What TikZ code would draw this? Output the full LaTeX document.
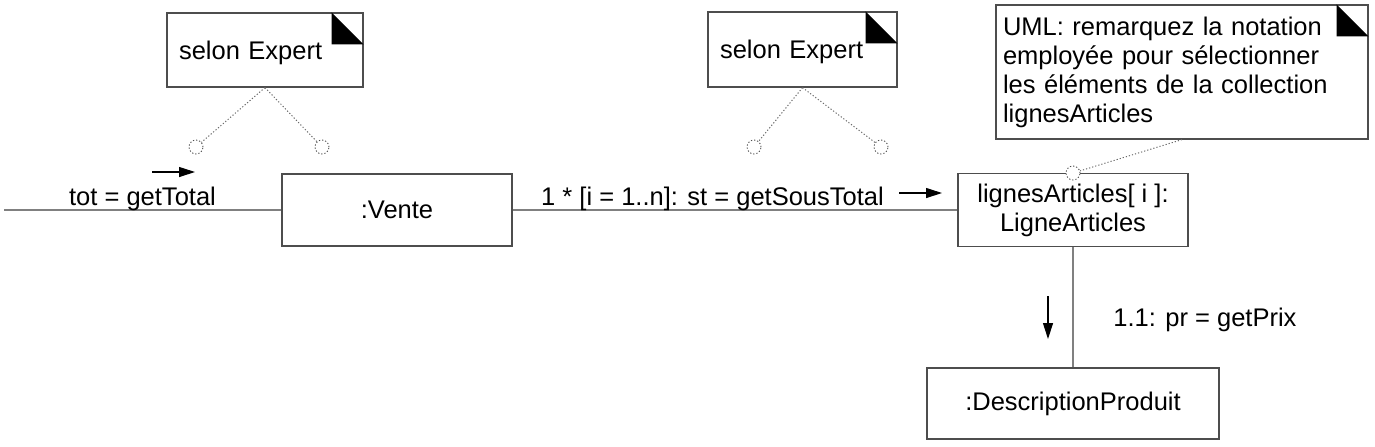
\documentclass[tikz,border=0pt]{standalone}
\usepackage{fontspec}
\setmainfont{Liberation Sans}
\usetikzlibrary{arrows.meta}
\definecolor{trait}{HTML}{808080}
\definecolor{bord}{HTML}{4D4D4D}
\definecolor{pointille}{HTML}{6B6B6B}
\tikzset{
  objet/.style={draw=bord,line width=0.6pt,fill=white,inner sep=2pt,align=center},
  note/.style={draw=bord,line width=0.6pt,fill=white,align=left,inner ysep=2pt},
  lien/.style={trait,line width=0.6pt},
  lienpt/.style={pointille,line width=0.5pt,dash pattern=on 0.6pt off 1pt},
  ancre/.style={circle,draw=bord,fill=white,line width=0.45pt,minimum size=7pt,inner sep=0pt},
  msg/.style={-{Triangle[length=8pt,width=5pt]},black,line width=0.55pt},
  etiq/.style={anchor=base,inner sep=0pt},
}

\begin{document}
\begin{tikzpicture}[x=0.5pt,y=-0.5pt,font=\fontsize{12.75}{14.5}\selectfont]
  \useasboundingbox (0,0) rectangle (1375,446);
  \node[objet,minimum width=115pt,minimum height=36pt] (vente) at (397,210) {:Vente};
  \node[objet,minimum width=115pt,minimum height=36.5pt] (lignes) at (1073,210) {lignesArticles[ i ]:\\LigneArticles};
  \node[objet,minimum width=146pt,minimum height=35.5pt] (descr) at (1073,403.5) {:DescriptionProduit};
  \coordinate (entree) at (4,210);
  \draw[lien] (entree) -- (vente.west);
  \draw[lien] (vente.east) -- (lignes.west);
  \draw[lien] (lignes.south) -- (descr.north);
  \node[etiq] (totlbl) at (142.5,205) {tot = getTotal};
  \node[etiq] (stlbl) at (712.5,205) {1 * [i = 1..n]: st = getSousTotal};
  \node[etiq,anchor=base west] (prlbl) at (1113,326) {1.1: pr = getPrix};
  \coordinate (m1a) at (152,172); \coordinate (m1b) at (195,172);
  \coordinate (m2a) at (899,193); \coordinate (m2b) at (942,193);
  \coordinate (m3a) at (1048,296); \coordinate (m3b) at (1048,339);
  \draw[msg] (m1a) -- (m1b);
  \draw[msg] (m2a) -- (m2b);
  \draw[msg] (m3a) -- (m3b);
  \node[note,text width=86pt,inner xsep=6pt,minimum height=37pt,text depth=0pt] (expert1) at (265,50) {selon Expert};
  \node[note,text width=82.5pt,inner xsep=6pt,minimum height=37.5pt,text depth=0pt] (expert2) at (802.5,49.5) {selon Expert};
  \node[note,text width=179pt,inner xsep=3.5pt,minimum height=67pt] (remarque) at (1182,72)
    {UML: remarquez la notation\\employée pour sélectionner\\les éléments de la collection\\lignesArticles};
  \foreach \n in {expert1,expert2,remarque}
    \fill[black] (\n.north east) ++(-16pt,0pt) -- ++(0pt,-16pt) -- ++(16pt,0pt) -- cycle;
  \draw[lienpt] (expert1.south) -- (196,147) node[ancre] (a1) {};
  \draw[lienpt] (expert1.south) -- (322,147) node[ancre] (a2) {};
  \draw[lienpt] (expert2.south) -- (754,147) node[ancre] (a3) {};
  \draw[lienpt] (expert2.south) -- (881,147) node[ancre] (a4) {};
  \draw[lienpt] (remarque.south) -- (1073,173) node[ancre] (a5) {};
\end{tikzpicture}
\end{document}
